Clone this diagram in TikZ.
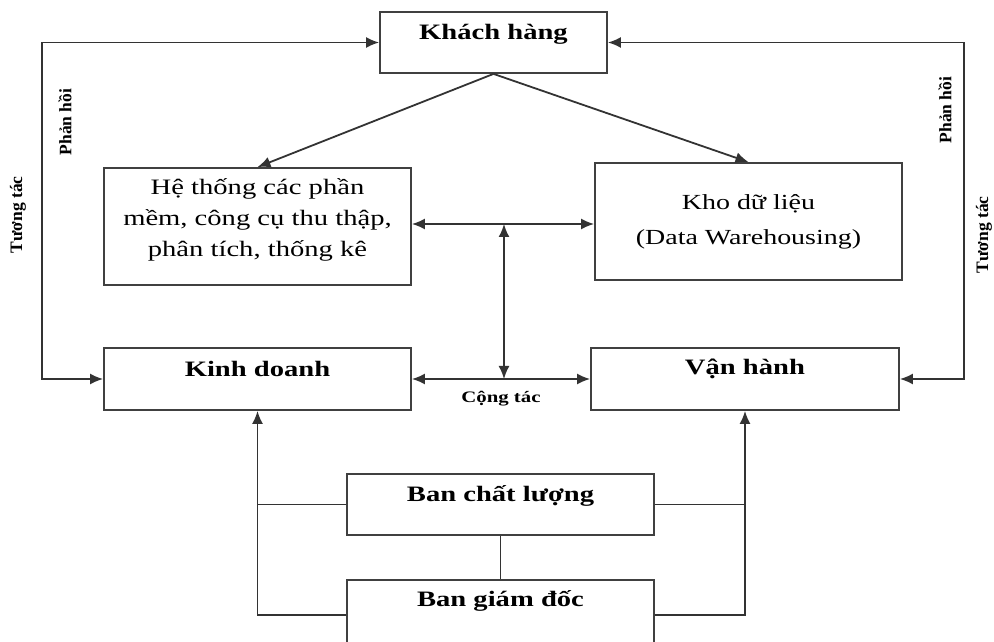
\documentclass[tikz,border=0pt]{standalone}
\usepackage{fontspec}
\setmainfont[FakeStretch=1.3]{Liberation Serif}
\newfontfamily\sidefont{Liberation Serif}
\usetikzlibrary{arrows.meta, positioning}

\tikzset{
  box/.style={draw=black!75, line width=1.8pt, minimum width=307pt, inner sep=0pt},
  title/.style={font=\fontsize{22}{26}\selectfont\bfseries},
  body/.style={font=\fontsize{22}{31}\selectfont, align=center},
  side/.style={font=\sidefont\fontsize{17.5}{20}\selectfont\bfseries, rotate=90},
  link/.style={draw=black!80, line width=1.8pt},
}

\begin{document}
\begin{tikzpicture}[x=1pt, y=1pt, >={Latex[length=13pt,width=11pt]}]
  \useasboundingbox (0,0) rectangle (994,641);
  % Boxes
  \node[box, minimum width=227pt, minimum height=61pt] (kh) at (493.5,598.5) {};
  \node[box, minimum height=117pt] (ht) at (257.5,414.5) {};
  \node[box, minimum height=117pt] (kho) at (748.5,419.5) {};
  \node[box, minimum height=62pt] (kd) at (257.5,262) {};
  \node[box, minimum width=308pt, minimum height=62pt] (vh) at (745,262) {};
  \node[box, minimum height=61pt] (bcl) at (500.5,136.5) {};
  \node[box, minimum height=70pt] (bgd) at (500.5,26) {};
  % Box texts
  \node[title] (khT) at (493.5,607) {Khách hàng};
  \node[body] (htT) at (257.5,421) {Hệ thống các phần\\mềm, công cụ thu thập,\\phân tích, thống kê};
  \node[body, font=\fontsize{21.5}{35}\selectfont] (khoT) at (748.5,419) {Kho dữ liệu\\(Data Warehousing)};
  \node[title] (kdT) at (257.5,272) {Kinh doanh};
  \node[title] (vhT) at (745,272) {Vận hành};
  \node[title] (bclT) at (500.5,145) {Ban chất lượng};
  \node[title] (bgdT) at (500.5,40) {Ban giám đốc};
  % Side labels
  \node[side] (phL) at (65,519) {Phản hồi};
  \node[side] (ttL) at (18,426) {Tương tác};
  \node[side] (phR) at (945,531) {Phản hồi};
  \node[side] (ttR) at (984,406) {Tương tác};
  % Feedback loops
  \coordinate (fbL) at (42,0);
  \coordinate (fbR) at (964,0);
  \draw[link, <->] (kh.west) -| (fbL |- kd.west) -- (kd.west);
  \draw[link, <->] (kh.east) -| (fbR |- vh.east) -- (vh.east);
  % Customer to the two blocks
  \draw[link, ->] (kh.south) -- (ht.north);
  \draw[link, ->] (kh.south) -- (kho.north);
  % Middle links
  \coordinate (mid) at (504,417);
  \draw[link, <->] (ht.east |- mid) -- (kho.west |- mid);
  \draw[link, <->] (mid) -- (mid |- kd.east);
  \draw[link, <->] (kd.east) -- (vh.west);
  \node[font=\fontsize{16}{18}\selectfont\bfseries] (ct) at (501,242) {Cộng tác};
  % Boards
  \draw[link, ->] (bgd.west) -| (kd.south);
  \draw[link] (bcl.west) -- (bcl.west -| kd.south);
  \draw[link, ->] (bgd.east) -| (vh.south);
  \draw[link] (bcl.east) -- (bcl.east -| vh.south);
  \draw[link] (bcl.south) -- (bgd.north);
\end{tikzpicture}
\end{document}
